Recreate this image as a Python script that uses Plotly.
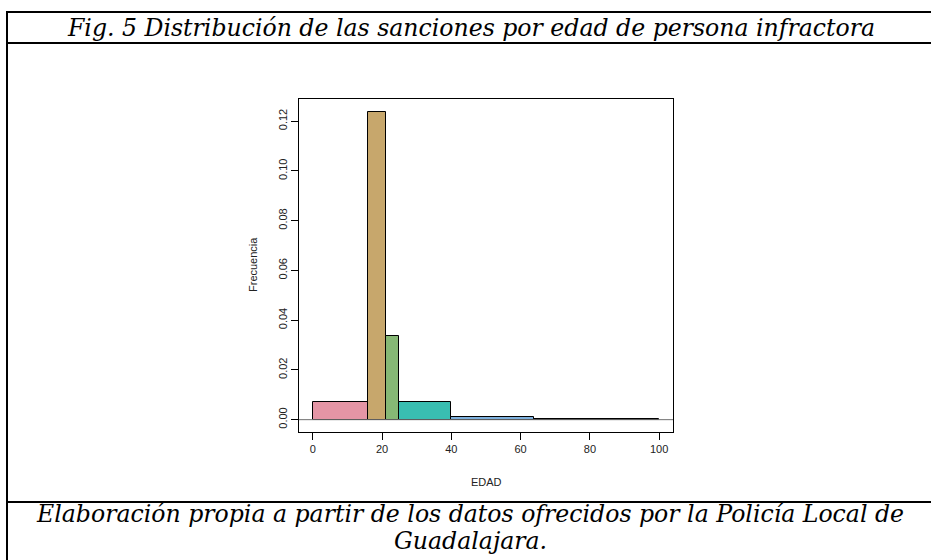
import plotly.graph_objects as go

# ---- data ----
bin_edges = [0, 16, 21, 25, 40, 64, 100]
densities = [0.0070, 0.1238, 0.0337, 0.0072, 0.0012, 0.0001]
bar_colors = ["#E495A5", "#C7A76C", "#86B875", "#39BEB1", "#7DB0DD", "#CD99D8"]
x_ticks = [0, 20, 40, 60, 80, 100]
y_ticks = [0.00, 0.02, 0.04, 0.06, 0.08, 0.10, 0.12]

title_text = "Fig. 5 Distribución de las sanciones por edad de persona infractora"
caption_line1 = "Elaboración propia a partir de los datos ofrecidos por la Policía Local de"
caption_line2 = "Guadalajara."
x_label = "EDAD"
y_label = "Frecuencia"

# ---- geometry (pixels) ----
W, H = 931, 560
PL, PR, PT, PB = 299, 673, 99, 432
pw, ph = PR - PL, PB - PT


def px(x):
    return (x - PL) / pw


def py(y):
    return (PB - y) / ph


centers = [(a + b) / 2 for a, b in zip(bin_edges[:-1], bin_edges[1:])]
widths = [b - a for a, b in zip(bin_edges[:-1], bin_edges[1:])]

fig = go.Figure()
fig.add_trace(go.Bar(
    x=centers, y=densities, width=widths,
    marker=dict(color=bar_colors, line=dict(color="black", width=1)),
    hoverinfo="x+y",
))

serif = "DejaVu Serif"
sans = "Liberation Sans, Arial, sans-serif"

fig.update_layout(
    width=W, height=H, autosize=False,
    margin=dict(l=PL, r=W - PR, t=PT, b=H - PB, pad=0),
    paper_bgcolor="white", plot_bgcolor="white",
    showlegend=False, bargap=0,
    xaxis=dict(range=[-4, 104], tickvals=x_ticks, ticks="outside", ticklen=7,
               tickcolor="black", showline=True, linecolor="black", linewidth=1,
               mirror=True, showgrid=False, zeroline=False,
               tickfont=dict(family=sans, size=11, color="#222")),
    yaxis=dict(range=[-0.00496, 0.1289], tickvals=y_ticks, tickformat=".2f",
               ticks="outside", ticklen=7, tickcolor="black", tickangle=-90,
               showline=True, linecolor="black", linewidth=1, mirror=True,
               showgrid=False, zeroline=False,
               tickfont=dict(family=sans, size=11, color="#222")),
)

# zero reference line
fig.add_shape(type="line", xref="paper", yref="y", x0=0, x1=1, y0=0, y1=0,
              line=dict(color="#707070", width=1), layer="above")

# frame lines
frame = dict(color="black", width=2)
for yy in (12, 43, 502):
    fig.add_shape(type="line", xref="paper", yref="paper",
                  x0=px(6), x1=px(931), y0=py(yy), y1=py(yy), line=frame)
fig.add_shape(type="line", xref="paper", yref="paper",
              x0=px(7), x1=px(7), y0=py(11), y1=py(560), line=frame)

# texts
serif_font = dict(family=serif, size=23.6, color="black")
fig.add_annotation(x=px(471), y=py(28), xref="paper", yref="paper",
                   text="<i>" + title_text + "</i>", showarrow=False,
                   font=serif_font, xanchor="center", yanchor="middle")
fig.add_annotation(x=px(470), y=py(514), xref="paper", yref="paper",
                   text="<i>" + caption_line1 + "</i>", showarrow=False,
                   font=serif_font, xanchor="center", yanchor="middle")
fig.add_annotation(x=px(470), y=py(541), xref="paper", yref="paper",
                   text="<i>" + caption_line2 + "</i>", showarrow=False,
                   font=serif_font, xanchor="center", yanchor="middle")
fig.add_annotation(x=px(486), y=py(482), xref="paper", yref="paper",
                   text=x_label, showarrow=False,
                   font=dict(family=sans, size=11, color="#222"),
                   xanchor="center", yanchor="middle")
fig.add_annotation(x=px(253), y=py(265), xref="paper", yref="paper",
                   text=y_label, showarrow=False, textangle=-90,
                   font=dict(family=sans, size=11, color="#222"),
                   xanchor="center", yanchor="middle")

fig.write_html("out.html", config={"displayModeBar": False},
               post_script="document.body.style.margin='0';")
